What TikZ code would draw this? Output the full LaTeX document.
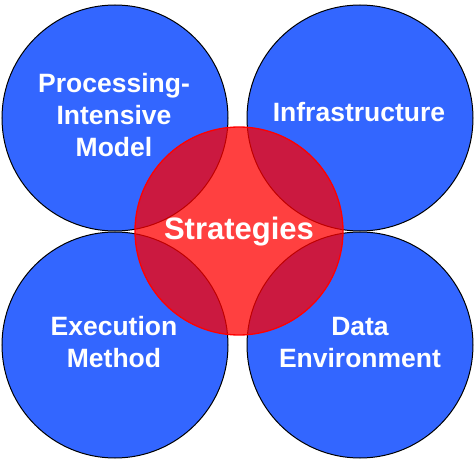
\documentclass[tikz,border=0pt]{standalone}
\usepackage{fontspec}
\setmainfont{Liberation Sans}
\definecolor{topicblue}{HTML}{3366FF}
\begin{document}
\begin{tikzpicture}[x=1pt,y=1pt,
  topic/.style={circle,minimum size=226pt,inner sep=0pt,fill=topicblue,draw=black,line width=1pt},
  core/.style={circle,minimum size=208pt,inner sep=0pt,fill=red,fill opacity=0.75,draw=red,draw opacity=1,line width=1.3pt},
  lbl/.style={text=white,font=\bfseries\fontsize{26.5}{32}\selectfont,align=center,anchor=base,inner sep=0pt},
  biglbl/.style={text=white,font=\bfseries\fontsize{31}{36}\selectfont,anchor=base,inner sep=0pt}]
\useasboundingbox (0,0) rectangle (475,459);
\node[topic] (tl) at (115,341) {};
\node[topic] (tr) at (360,341) {};
\node[topic] (bl) at (115,114) {};
\node[topic] (br) at (360,114) {};
\node[core] (core) at (239,228) {};
\node[lbl] (tltext) at (114,302) {Processing-\\Intensive\\Model};
\node[lbl] (trtext) at (359,337) {Infrastructure};
\node[lbl] (bltext) at (114,92) {Execution\\Method};
\node[lbl] (brtext) at (360,92) {Data\\Environment};
\node[biglbl] (coretext) at (239,219) {Strategies};
\end{tikzpicture}
\end{document}
